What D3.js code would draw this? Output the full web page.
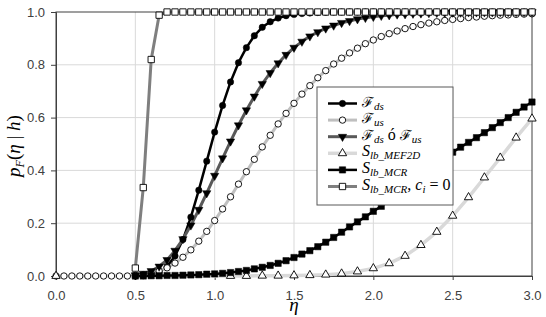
<!DOCTYPE html>
<html>
<head>
<meta charset="utf-8">
<script src="https://cdn.jsdelivr.net/npm/d3@7"></script>
<style>
  body { margin: 0; background: #fff; }
  .tick text { font-family: "Liberation Sans", Arial, sans-serif; font-size: 13px; fill: #404040; }
</style>
</head>
<body>
<svg id="chart"></svg>
<script>
// eta samples
const etaLow = [0.00, 0.05, 0.10, 0.15, 0.20, 0.25, 0.30, 0.35, 0.40, 0.45];
const etaHalf = [
  0.50, 0.55, 0.60, 0.65, 0.70, 0.75, 0.80, 0.85, 0.90, 0.95,
  1.00, 1.05, 1.10, 1.15, 1.20, 1.25, 1.30, 1.35, 1.40, 1.45,
  1.50, 1.55, 1.60, 1.65, 1.70, 1.75, 1.80, 1.85, 1.90, 1.95,
  2.00, 2.05, 2.10, 2.15, 2.20, 2.25, 2.30, 2.35, 2.40, 2.45,
  2.50, 2.55, 2.60, 2.65, 2.70, 2.75, 2.80, 2.85, 2.90, 2.95,
  3.00
];
const etaMef = [0.0, 1.1, 1.2, 1.3, 1.4, 1.5, 1.6, 1.7, 1.8, 1.9, 2.0,
  2.1, 2.2, 2.3, 2.4, 2.5, 2.6, 2.7, 2.8, 2.9, 3.0];

// series values
const fds = [
  0.000, 0.001, 0.004, 0.014, 0.036, 0.076, 0.138, 0.223, 0.325, 0.435,
  0.545, 0.646, 0.735, 0.808, 0.865, 0.910, 0.942, 0.963, 0.977, 0.986,
  0.991, 0.994, 0.996, 0.998, 0.999, 1.000, 1.000, 1.000, 1.000, 1.000,
  1.000, 1.000, 1.000, 1.000, 1.000, 1.000, 1.000, 1.000, 1.000, 1.000,
  1.000, 1.000, 1.000, 1.000, 1.000, 1.000, 1.000, 1.000, 1.000, 1.000,
  1.000
];
const fus = [
  0.000, 0.000, 0.000, 0.000, 0.000, 0.000, 0.000, 0.000, 0.000, 0.000,
  0.002, 0.005, 0.010, 0.019, 0.031, 0.049, 0.071, 0.099, 0.132, 0.169,
  0.210, 0.254, 0.300, 0.348, 0.395, 0.442, 0.489, 0.533, 0.576, 0.616,
  0.654, 0.689, 0.721, 0.751, 0.778, 0.803, 0.825, 0.845, 0.863, 0.880,
  0.894, 0.907, 0.918, 0.928, 0.937, 0.945, 0.952, 0.958, 0.963, 0.968,
  0.972, 0.975, 0.979, 0.981, 0.984, 0.986, 0.988, 0.989, 0.991, 0.992,
  0.993
];
const fdsOrFus = [
  0.003, 0.009, 0.019, 0.036, 0.061, 0.096, 0.140, 0.192, 0.251, 0.314,
  0.380, 0.446, 0.510, 0.571, 0.628, 0.680, 0.728, 0.769, 0.806, 0.838,
  0.865, 0.888, 0.908, 0.924, 0.938, 0.949, 0.959, 0.966, 0.973, 0.978,
  0.982, 0.986, 0.988, 0.991, 0.992, 0.994, 0.995, 0.996, 0.997, 0.997,
  0.998, 0.998, 0.999, 0.999, 0.999, 0.999, 1.000, 1.000, 1.000, 1.000,
  1.000
];
const mef2d = [0.000, 0.000, 0.000, 0.001, 0.001, 0.002, 0.003, 0.005, 0.009, 0.017, 0.029,
  0.048, 0.076, 0.117, 0.167, 0.228, 0.298, 0.373, 0.448, 0.524, 0.596];
const mcr = [
  0.000, 0.000, 0.001, 0.001, 0.002, 0.002, 0.003, 0.004, 0.005, 0.007,
  0.008, 0.010, 0.013, 0.017, 0.021, 0.027, 0.033, 0.040, 0.048, 0.058,
  0.070, 0.083, 0.096, 0.111, 0.128, 0.146, 0.166, 0.186, 0.205, 0.224,
  0.245, 0.264, 0.286, 0.309, 0.331, 0.354, 0.377, 0.400, 0.423, 0.447,
  0.469, 0.488, 0.506, 0.524, 0.543, 0.562, 0.581, 0.600, 0.620, 0.640,
  0.659
];
const mcrCi0 = [
  0.030, 0.335, 0.820, 0.988, 1.000, 1.000, 1.000, 1.000, 1.000, 1.000,
  1.000, 1.000, 1.000, 1.000, 1.000, 1.000, 1.000, 1.000, 1.000, 1.000,
  1.000, 1.000, 1.000, 1.000, 1.000, 1.000, 1.000, 1.000, 1.000, 1.000,
  1.000, 1.000, 1.000, 1.000, 1.000, 1.000, 1.000, 1.000, 1.000, 1.000,
  1.000, 1.000, 1.000, 1.000, 1.000, 1.000, 1.000, 1.000, 1.000, 1.000,
  1.000
];

const xTicks = [0, 0.5, 1.0, 1.5, 2.0, 2.5, 3.0];
const yTicks = [0, 0.2, 0.4, 0.6, 0.8, 1.0];

const etaFine = etaLow.concat(etaHalf);

// legend labels: [text, kind]
const series = [
  { eta: etaHalf, p: fds, stroke: '#000', sw: 2.5, shape: 'circle', fill: '#000',
    label: [['\u2131', 'F'], ['ds', 'sub']] },
  { eta: etaFine, p: fus, stroke: '#bfbfbf', sw: 3, shape: 'circle', fill: '#fff',
    label: [['\u2131', 'F'], ['us', 'sub']] },
  { eta: etaHalf, p: fdsOrFus, stroke: '#595959', sw: 3, shape: 'down', fill: '#000',
    label: [['\u2131', 'F'], ['ds', 'sub'], [' \u00f3 ', 'txt'], ['\u2131', 'F'], ['us', 'sub']] },
  { eta: etaMef, p: mef2d, stroke: '#d9d9d9', sw: 3.5, shape: 'up', fill: '#fff',
    label: [['S', 'S'], ['lb_MEF2D', 'sub']] },
  { eta: etaHalf, p: mcr, stroke: '#000', sw: 2.5, shape: 'square', fill: '#000',
    label: [['S', 'S'], ['lb_MCR', 'sub']] },
  { eta: etaHalf, p: mcrCi0, stroke: '#7f7f7f', sw: 3, shape: 'square', fill: '#fff',
    label: [['S', 'S'], ['lb_MCR', 'sub'], [', ', 'txt'], ['c', 'S'], ['i', 'sub'], [' = 0', 'txt']] }
];

const margin = { top: 12, right: 14, bottom: 41, left: 56 };
const W = 546, H = 317;
const width = W - margin.left - margin.right;
const height = H - margin.top - margin.bottom;

const svg = d3.select('#chart').attr('width', W).attr('height', H);
const g = svg.append('g').attr('transform', `translate(${margin.left},${margin.top})`);

const x = d3.scaleLinear().domain([0, 3]).range([0, width]);
const y = d3.scaleLinear().domain([0, 1]).range([height, 0]);

// gridlines
g.append('g').selectAll('line')
  .data(yTicks.slice(1, -1))
  .enter().append('line')
  .attr('x1', 0).attr('x2', width)
  .attr('y1', d => y(d)).attr('y2', d => y(d))
  .attr('stroke', '#d9d9d9');
g.append('g').selectAll('line')
  .data(xTicks.slice(1, -1))
  .enter().append('line')
  .attr('y1', 0).attr('y2', height)
  .attr('x1', d => x(d)).attr('x2', d => x(d))
  .attr('stroke', '#d9d9d9');

// frame
g.append('rect')
  .attr('width', width).attr('height', height)
  .attr('fill', 'none').attr('stroke', '#404040');

// axes
g.append('g')
  .call(d3.axisLeft(y).tickValues(yTicks).tickFormat(d3.format('.1f')).tickSize(5).tickPadding(6))
  .call(a => a.select('.domain').attr('stroke', '#404040'))
  .call(a => a.selectAll('.tick line').attr('stroke', '#404040'));
g.append('g')
  .attr('transform', `translate(0,${height})`)
  .call(d3.axisBottom(x).tickValues(xTicks).tickFormat(d3.format('.1f')).tickSize(4).tickPadding(11))
  .call(a => a.select('.domain').attr('stroke', '#404040'))
  .call(a => a.selectAll('.tick line').attr('stroke', '#404040'));

// lines
const line = d3.line().x(d => x(d[0])).y(d => y(d[1]));
series.forEach(s => {
  const pts = s.eta.map((e, i) => [e, s.p[i]]);
  g.append('path')
    .datum(pts)
    .attr('d', line)
    .attr('fill', 'none')
    .attr('stroke', s.stroke)
    .attr('stroke-width', s.sw)
    .attr('stroke-linejoin', 'round');
});

// markers
const symbolOf = shape => {
  if (shape === 'circle') return d3.symbol(d3.symbolCircle, 32)();
  if (shape === 'square') return d3.symbol(d3.symbolSquare, 40)();
  return d3.symbol(d3.symbolTriangle, 30)();
};
const drawMarker = (sel, s) => {
  sel.attr('d', symbolOf(s.shape))
    .attr('fill', s.fill)
    .attr('stroke', '#000')
    .attr('stroke-width', s.fill === '#fff' ? 0.9 : 0.5);
};
series.forEach(s => {
  const pts = s.eta.map((e, i) => [e, s.p[i]]);
  g.append('g').selectAll('path')
    .data(pts)
    .enter().append('path')
    .attr('transform', d => `translate(${x(d[0])},${y(d[1])})` + (s.shape === 'down' ? ' rotate(180)' : ''))
    .call(sel => drawMarker(sel, s));
});

// legend
const legend = svg.append('g').attr('transform', 'translate(317,87)');
legend.append('rect')
  .attr('width', 136).attr('height', 118)
  .attr('fill', '#fff').attr('stroke', '#595959');

const fontOf = {
  F: { family: '"DejaVu Serif", serif', size: 14, style: 'normal' },
  S: { family: '"Liberation Serif", serif', size: 16, style: 'italic' },
  sub: { family: '"Liberation Serif", serif', size: 11, style: 'italic' },
  txt: { family: '"Liberation Serif", serif', size: 16, style: 'normal' }
};

series.forEach((s, i) => {
  const item = legend.append('g').attr('transform', `translate(0,${16.5 + i * 16.6})`);
  item.append('line')
    .attr('x1', 11).attr('x2', 40)
    .attr('stroke', s.stroke).attr('stroke-width', s.sw);
  item.append('path')
    .attr('transform', 'translate(25.5,0)' + (s.shape === 'down' ? ' rotate(180)' : ''))
    .call(sel => drawMarker(sel, s));

  const text = item.append('text').attr('x', 45).attr('y', 3).attr('fill', '#000');
  let shifted = false;
  s.label.forEach(([t, kind]) => {
    const f = fontOf[kind];
    const span = text.append('tspan')
      .attr('font-family', f.family)
      .attr('font-size', f.size)
      .attr('font-style', f.style)
      .style('white-space', 'pre')
      .text(t);
    if (kind === 'sub' && !shifted) { span.attr('dy', 3); shifted = true; }
    else if (kind !== 'sub' && shifted) { span.attr('dy', -3); shifted = false; }
  });
});

// axis titles
const yTitle = svg.append('text')
  .attr('transform', 'translate(20,146) rotate(-90)')
  .attr('text-anchor', 'middle')
  .attr('font-family', '"Liberation Serif", serif')
  .attr('font-size', 19)
  .attr('fill', '#000');
yTitle.append('tspan').attr('font-style', 'italic').text('p');
yTitle.append('tspan').attr('font-style', 'italic').attr('font-size', 12).attr('dy', 4).text('F');
yTitle.append('tspan').attr('dy', -4).text('(');
yTitle.append('tspan').attr('font-style', 'italic').text('\u03b7');
yTitle.append('tspan').style('white-space', 'pre').text(' | ');
yTitle.append('tspan').attr('font-style', 'italic').text('h');
yTitle.append('tspan').text(')');

svg.append('text')
  .attr('x', margin.left + width / 2)
  .attr('y', 311)
  .attr('text-anchor', 'middle')
  .attr('font-family', '"Liberation Serif", serif')
  .attr('font-style', 'italic')
  .attr('font-size', 19)
  .attr('fill', '#000')
  .text('\u03b7');
</script>
</body>
</html>
